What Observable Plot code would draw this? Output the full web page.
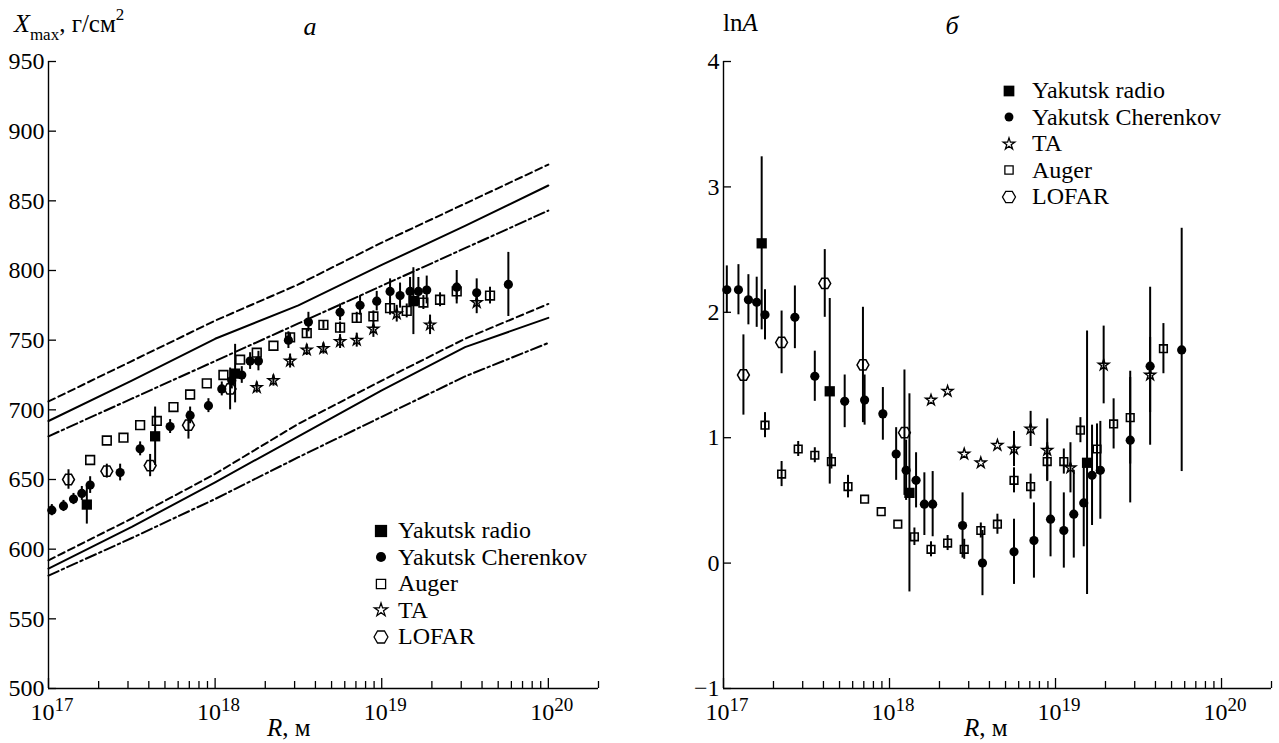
<!DOCTYPE html>
<html>
<head>
<meta charset="utf-8">
<script src="https://cdn.jsdelivr.net/npm/d3@7"></script>
<script src="https://cdn.jsdelivr.net/npm/@observablehq/plot@0.6"></script>
<style>
  body { margin: 0; background: #fff; }
  #fig { position: relative; width: 1279px; height: 743px; background: #fff; overflow: hidden;
         font-family: "Liberation Serif", "Times New Roman", serif; color: #000; }
  #fig > svg { position: absolute; top: 0; }
  .legend { position: absolute; font-family: "Liberation Serif", "Times New Roman", serif; font-size: 24px; }
  .legend .row { display: flex; align-items: center; height: 26.5px; line-height: 26.5px; white-space: nowrap; }
  .legend .row svg { width: 18px; height: 18px; flex: none; }
</style>
</head>
<body>
<div id="fig"></div>
<script>
// ---- x positions (log10 R) and values per data set ----
const cherenkovLgR = [17.02, 17.09, 17.15, 17.2, 17.25, 17.43, 17.55, 17.73, 17.85, 17.96, 18.04, 18.1, 18.16, 18.21,
                      18.26, 18.44, 18.56, 18.75, 18.87, 18.97, 19.05, 19.11, 19.17, 19.22, 19.27, 19.45, 19.57, 19.76];
const cherenkovXmax = [628, 631, 636, 640, 646, 655, 672, 688, 696, 703, 715, 721, 725, 735,
                       735, 750, 763, 770, 775, 778, 785, 782, 785, 785, 786, 788, 784, 790];
const cherenkovXmaxErr = [4, 4, 4, 5, 6, 6, 5, 5, 6, 5, 5, 6, 6, 6, 7, 6, 7, 6, 7, 7, 9, 9, 10, 10, 10, 12, 10, 23];
const cherenkovLnA = [2.18, 2.18, 2.10, 2.08, 1.98, 1.96, 1.49, 1.29, 1.30, 1.19, 0.87, 0.74, 0.66, 0.47,
                      0.47, 0.30, 0.00, 0.09, 0.18, 0.35, 0.26, 0.39, 0.48, 0.70, 0.74, 0.98, 1.57, 1.70];
const cherenkovLnAErr = [0.19, 0.2, 0.2, 0.2, 0.2, 0.25, 0.2, 0.21, 0.2, 0.21, 0.21, 0.24, 0.22, 0.25,
                         0.26, 0.26, 0.26, 0.26, 0.3, 0.3, 0.3, 0.35, 0.35, 0.4, 0.39, 0.5, 0.63, 0.97];

const radioLgR = [17.23, 17.64, 18.12, 19.19];
const radioXmax = [632, 681, 726, 778];
const radioXmaxErr = [14, 21, 21, 24];
const radioLnA = [2.55, 1.37, 0.56, 0.80];
const radioLnAErr = [0.69, 0.74, 0.79, 1.05];

const augerLgR = [17.25, 17.35, 17.45, 17.55, 17.65, 17.75, 17.85, 17.95, 18.05, 18.15, 18.25, 18.35,
                  18.45, 18.55, 18.65, 18.75, 18.85, 18.95, 19.05, 19.15, 19.25, 19.35, 19.45, 19.65];
const augerXmax = [664, 678, 680, 689, 692, 702, 711, 719, 725, 736, 741, 746,
                   752, 755, 761, 759, 766, 767, 773, 771, 777, 779, 785, 782];
const augerXmaxErr = [0, 0, 0, 0, 0, 0, 0, 0, 0, 0, 0, 0, 3, 3, 3, 4, 4, 4, 5, 5, 5, 5, 6, 6];
const augerLnA = [1.10, 0.71, 0.91, 0.86, 0.81, 0.61, 0.51, 0.41, 0.31, 0.21, 0.11, 0.16,
                  0.11, 0.26, 0.31, 0.66, 0.61, 0.81, 0.81, 1.06, 0.91, 1.11, 1.16, 1.71];
const augerLnAErr = [0.1, 0.1, 0.06, 0.06, 0.06, 0.09, 0, 0, 0, 0.07, 0.06, 0.06,
                     0.08, 0.06, 0.08, 0.1, 0.1, 0.15, 0.1, 0.1, 0.2, 0.2, 0.37, 0.2];

const taLgR = [18.25, 18.35, 18.45, 18.55, 18.65, 18.75, 18.85, 18.95, 19.09, 19.29, 19.57];
const taXmax = [716, 721, 735, 743, 744, 749, 750, 758, 769, 761, 777];
const taXmaxErr = [4, 4, 5, 4, 4, 5, 5, 6, 6, 7, 8];
const taLnA = [1.30, 1.37, 0.87, 0.80, 0.94, 0.91, 1.07, 0.90, 0.76, 1.58, 1.50];
const taLnAErr = [0, 0, 0, 0, 0, 0.14, 0.14, 0.25, 0.2, 0.31, 0.3];

const lofarLgR = [17.12, 17.35, 17.61, 17.84, 18.09];
const lofarXmax = [650, 656, 660, 689, 715];
const lofarXmaxErr = [7, 5, 8, 10, 15];
const lofarLnA = [1.50, 1.76, 2.23, 1.58, 1.04];
const lofarLnAErr = [0.32, 0.25, 0.27, 0.46, 0.5];

// ---- model Xmax curves (upper: proton, lower: iron) ----
const modelLgR = [17, 17.5, 18, 18.5, 19, 19.5, 20];
const protonDashed = [706, 735, 764, 790, 820, 848, 876];
const protonSolid = [692, 721, 751, 775, 804, 832, 861];
const protonDashDot = [681, 708, 735, 762, 789, 816, 843];
const ironDashed = [592, 622, 654, 690, 721, 751, 776];
const ironSolid = [586, 616, 648, 681, 714, 745, 766];
const ironDashDot = [581, 608, 636, 666, 695, 724, 748];

// ---- axes ----
const xMajorExp = [17, 18, 19, 20];
const xMinorTicks = [17, 18, 19].flatMap(e => [2, 3, 4, 5, 6, 7, 8, 9].map(m => m * 10 ** e)).concat([2e20]);
const xmaxTicks = [500, 550, 600, 650, 700, 750, 800, 850, 900, 950];
const lnATicks = [-1, 0, 1, 2, 3, 4];

const legendLeft = ["Yakutsk radio", "Yakutsk Cherenkov", "Auger", "TA", "LOFAR"];
const legendRight = ["Yakutsk radio", "Yakutsk Cherenkov", "TA", "Auger", "LOFAR"];

const SERIF = "Liberation Serif, Times New Roman, serif";

// hexagon marker with flat top and bottom
const hexagon = {
  draw(context, size) {
    const s = Math.sqrt(size / Math.PI) * 1.1;
    const h = s * Math.sqrt(3) / 2;
    context.moveTo(s, 0);
    context.lineTo(s / 2, h);
    context.lineTo(-s / 2, h);
    context.lineTo(-s, 0);
    context.lineTo(-s / 2, -h);
    context.lineTo(s / 2, -h);
    context.closePath();
  }
};

const rows = (lg, v, e) => lg.map((l, i) => ({R: 10 ** l, v: v[i], e: e ? e[i] : 0}));
const intFormat = d3.format("d");

const DASHED = "7,4";
const DASHDOT = "11,3.5,2.5,3.5";

function panel({width, marginLeft, marginRight, yDomain, yTicks, lines, series}) {
  const height = 743, marginTop = 61, marginBottom = 55;
  const plotW = width - marginLeft - marginRight;
  const plotH = height - marginTop - marginBottom;
  const errs = series.flatMap(s => s.data).filter(d => d.e > 0);
  const svg = Plot.plot({
    width, height, marginLeft, marginRight, marginTop, marginBottom,
    x: {type: "log", domain: [1e17, 2e20], axis: null},
    y: {domain: yDomain},
    style: `font-family: ${SERIF}; font-size: 24px; color: black; background: transparent; overflow: visible;`,
    marks: [
      ...lines.map(l => Plot.line(l.data, {x: "R", y: "v", stroke: "black", strokeWidth: 2, strokeDasharray: l.dash})),
      Plot.ruleX([1e17], {stroke: "black", strokeWidth: 1.4}),
      Plot.ruleY([yDomain[0]], {stroke: "black", strokeWidth: 1.7}),
      Plot.tickX(xMinorTicks, {x: d => d, insetTop: plotH - 7, strokeWidth: 1.3}),
      Plot.tickX(xMajorExp, {x: d => 10 ** d, insetTop: plotH - 10, strokeWidth: 1.3}),
      Plot.tickY(yTicks, {y: d => d, insetRight: plotW - 8, strokeWidth: 1.3}),
      Plot.axisY({ticks: yTicks, tickSize: 0, tickPadding: 4, label: null, fontSize: 24,
                  fontFamily: SERIF, tickFormat: intFormat}),
      Plot.text(xMajorExp, {x: d => 10 ** d, text: () => "10", frameAnchor: "bottom", textAnchor: "end",
                            lineAnchor: "bottom", dx: 6, dy: 31.5, fontSize: 24, fontFamily: SERIF}),
      Plot.text(xMajorExp, {x: d => 10 ** d, text: d => String(d), frameAnchor: "bottom", textAnchor: "start",
                            lineAnchor: "bottom", dx: 6, dy: 22.5, fontSize: 19, fontFamily: SERIF}),
      ...series.map(s => Plot.dot(s.data, {x: "R", y: "v", ...s.style})),
      Plot.ruleX(errs, {x: "R", y1: d => d.v - d.e, y2: d => d.v + d.e, stroke: "black", strokeWidth: 2})
    ]
  });
  svg.setAttribute("font-family", SERIF);
  return svg;
}

const styles = {
  radio: {symbol: "square", r: 5.8, fill: "black", stroke: "none"},
  cher: {symbol: "circle", r: 4.6, fill: "black", stroke: "none"},
  augerL: {symbol: "square", r: 4.9, fill: "white", stroke: "black", strokeWidth: 1.6},
  augerR: {symbol: "square", r: 4.3, fill: "white", stroke: "black", strokeWidth: 1.6},
  ta: {symbol: "star", r: 3.4, fill: "white", stroke: "black", strokeWidth: 1.4},
  lofar: {symbol: hexagon, r: 5.4, fill: "white", stroke: "black", strokeWidth: 1.5}
};

const left = panel({
  width: 640, marginLeft: 48, marginRight: 42,
  yDomain: [500, 950], yTicks: xmaxTicks,
  lines: [
    {data: rows(modelLgR, protonDashed), dash: DASHED},
    {data: rows(modelLgR, protonSolid), dash: null},
    {data: rows(modelLgR, protonDashDot), dash: DASHDOT},
    {data: rows(modelLgR, ironDashed), dash: DASHED},
    {data: rows(modelLgR, ironSolid), dash: null},
    {data: rows(modelLgR, ironDashDot), dash: DASHDOT}
  ],
  series: [
    {data: rows(augerLgR, augerXmax, augerXmaxErr), style: styles.augerL},
    {data: rows(taLgR, taXmax, taXmaxErr), style: styles.ta},
    {data: rows(lofarLgR, lofarXmax, lofarXmaxErr), style: styles.lofar},
    {data: rows(cherenkovLgR, cherenkovXmax, cherenkovXmaxErr), style: styles.cher},
    {data: rows(radioLgR, radioXmax, radioXmaxErr), style: styles.radio}
  ]
});

const right = panel({
  width: 639, marginLeft: 83, marginRight: 8,
  yDomain: [-1, 4], yTicks: lnATicks,
  lines: [],
  series: [
    {data: rows(augerLgR, augerLnA, augerLnAErr), style: styles.augerR},
    {data: rows(taLgR, taLnA, taLnAErr), style: styles.ta},
    {data: rows(lofarLgR, lofarLnA, lofarLnAErr), style: styles.lofar},
    {data: rows(cherenkovLgR, cherenkovLnA, cherenkovLnAErr), style: styles.cher},
    {data: rows(radioLgR, radioLnA, radioLnAErr), style: styles.radio}
  ]
});

const fig = document.getElementById("fig");
left.style.left = "0px";
right.style.left = "640px";
fig.append(left, right);

// ---- axis titles and panel letters ----
const ov = d3.select(fig).append("svg")
  .attr("width", 1279).attr("height", 743)
  .style("left", "0px").style("pointer-events", "none")
  .attr("font-family", SERIF).attr("fill", "black");

function label(x, y, parts, anchor = "start") {
  const t = ov.append("text").attr("x", x).attr("y", y).attr("text-anchor", anchor);
  for (const p of parts) {
    const s = t.append("tspan").text(p.t).attr("font-size", p.size || 25);
    if (p.italic) s.attr("font-style", "italic");
    if (p.dy) s.attr("dy", p.dy);
  }
}
label(14, 32, [
  {t: "X", italic: true, size: 26},
  {t: "max", size: 17, dy: 7.5},
  {t: ", г/см", size: 25, dy: -7.5},
  {t: "2", size: 17, dy: -12}
]);
label(310, 35, [{t: "а", italic: true, size: 26}], "middle");
label(723, 31, [{t: "ln", size: 25}, {t: "A", italic: true, size: 25}]);
label(952, 34, [{t: "б", italic: true, size: 26}], "middle");
label(267, 736, [{t: "R", italic: true, size: 25}, {t: ", м", size: 25}]);
label(964, 736, [{t: "R", italic: true, size: 25}, {t: ", м", size: 25}]);

// ---- legends ----
const legendSymbols = {
  "Yakutsk radio": {type: d3.symbolSquare, fill: "black"},
  "Yakutsk Cherenkov": {type: d3.symbolCircle, fill: "black"},
  "Auger": {type: d3.symbolSquare, fill: "white"},
  "TA": {type: d3.symbolStar, fill: "white"},
  "LOFAR": {type: hexagon, fill: "white"}
};
function legend(items, x, y, gap, sizes) {
  const box = d3.select(fig).append("div").attr("class", "legend")
    .style("left", (x - 9) + "px").style("top", (y - 13.25) + "px");
  for (const name of items) {
    const row = box.append("div").attr("class", "row");
    const sym = legendSymbols[name];
    const svg = row.append("svg").attr("viewBox", "-9 -9 18 18").style("margin-right", gap + "px");
    svg.append("path")
      .attr("d", d3.symbol(sym.type, sizes[name])())
      .attr("fill", sym.fill)
      .attr("stroke", sym.fill === "white" ? "black" : "none")
      .attr("stroke-width", 1.3);
    row.append("span").text(name);
  }
}
legend(legendLeft, 381, 530.5, 8, {"Yakutsk radio": 150, "Yakutsk Cherenkov": 80, "Auger": 85, "TA": 55, "LOFAR": 125});
legend(legendRight, 1009, 90.5, 14, {"Yakutsk radio": 115, "Yakutsk Cherenkov": 62, "TA": 42, "Auger": 68, "LOFAR": 110});
</script>
</body>
</html>
